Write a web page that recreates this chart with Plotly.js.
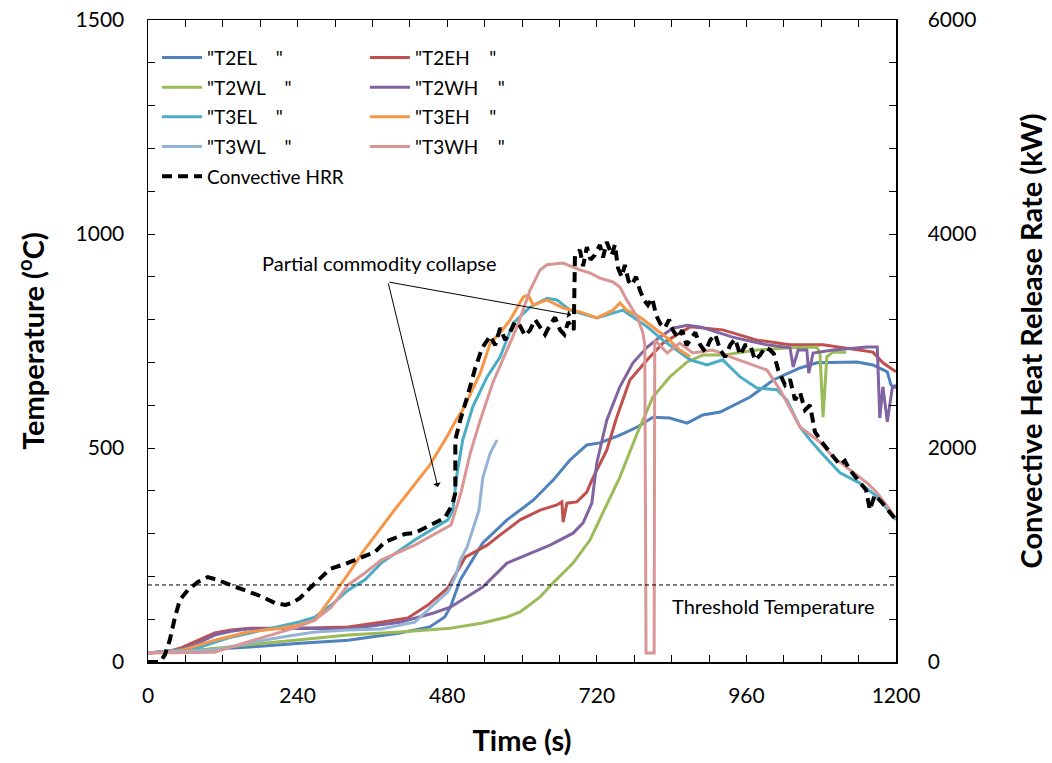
<!DOCTYPE html>
<html>
<head>
<meta charset="utf-8">
<script src="https://cdn.plot.ly/plotly-3.0.1.min.js"></script>
<style>html,body{margin:0;padding:0;background:#fff;}#chart{width:1052px;height:763px;}</style>
</head>
<body>
<div id="chart"></div>
<script>
// ---- Data (time in s, temperature in degC, HRR in kW) ----
const t_T2EL = [0,83,164,244,321,404,452,476,485,501,537,576,618,650,677,704,725,757,785,810,837,865,890,918,934,966,1003,1046,1073,1110,1137,1163,1186,1192,1200];
const T2EL   = [21,28,35,44,51,68,82,105,128,192,278,332,378,425,472,507,512,530,549,572,570,558,577,584,596,619,659,687,699,701,701,694,678,647,640];

const t_T2EH = [0,35,53,80,107,133,164,244,321,374,417,449,481,509,544,565,597,629,656,664,666,672,688,704,712,736,752,773,801,826,853,870,922,977,1030,1083,1163,1179,1200];
const T2EH   = [21,26,33,51,68,75,79,79,82,93,103,133,173,245,273,297,332,355,367,374,327,371,374,397,425,495,572,659,706,745,769,783,776,752,741,741,724,699,678];

const t_T2WL = [0,83,160,241,321,404,485,537,576,597,629,650,682,709,730,757,785,810,837,865,890,922,977,1030,1073,1078,1083,1089,1099,1120];
const T2WL   = [21,28,40,51,63,70,79,91,105,117,152,185,231,285,348,432,535,619,666,701,717,717,729,734,736,722,572,713,724,724];

const t_T2WH = [0,51,80,107,133,160,244,321,404,457,485,512,537,576,618,645,682,698,712,720,736,757,778,801,821,842,865,886,938,993,1030,1035,1043,1057,1060,1067,1099,1154,1170,1174,1179,1186,1194,1200];
const T2WH   = [21,28,44,63,72,77,79,77,93,114,128,152,175,231,257,273,301,325,371,465,565,643,699,736,759,780,787,783,759,741,734,689,729,729,675,722,729,736,736,570,643,561,640,647];

const t_T3EL = [0,80,133,188,241,268,294,321,348,374,428,481,489,496,505,521,544,565,586,613,640,656,677,693,720,746,762,778,801,826,849,870,897,922,950,977,1009,1025,1046,1062,1083,1110,1142,1170,1200];
const T3EL   = [21,33,58,75,93,105,133,168,192,231,285,332,355,442,519,596,666,713,792,829,850,846,822,815,804,815,822,806,783,752,729,706,694,706,666,640,636,612,549,519,484,442,418,386,332];

const t_T3EH = [0,51,107,160,213,241,268,294,321,345,399,452,481,494,505,533,549,565,581,602,610,618,640,666,693,720,746,757,768,789,810,833,853,870];
const T3EH   = [21,26,51,70,79,86,98,150,205,258,362,460,530,565,589,675,745,769,799,853,857,834,846,827,818,804,822,839,822,806,783,757,729,713];

const t_T3WL = [0,107,160,213,268,321,374,428,454,481,493,501,512,521,531,537,549,560];
const T3WL   = [21,28,44,58,70,75,77,93,128,164,199,238,269,308,355,430,488,519];

const t_T3WH = [0,107,160,213,241,268,294,321,348,374,428,486,502,517,533,553,576,592,613,629,640,666,693,709,725,746,757,768,785,794,797,799,812,813,833,853,874,906,934,961,993,1014,1046,1078,1099,1126,1154,1170,1195,1200];
const T3WH   = [21,23,47,70,82,98,128,180,208,238,273,320,395,488,565,652,729,783,869,916,928,932,916,909,897,888,876,846,806,769,741,21,21,752,722,745,722,729,713,699,682,636,549,514,479,449,418,395,348,336];

const t_HRR = [0,19,27,35,43,51,64,80,96,112,132,156,180,204,220,231,244,260,276,292,316,340,364,380,396,412,428,444,460,476,488,493,493,501,513,525,536,549,557,565,573,581,589,597,605,613,621,629,637,645,653,661,668,674,683,685,693,698,704,710,717,725,730,736,744,749,754,760,765,771,776,783,789,796,802,809,815,822,829,836,842,850,857,864,870,878,886,894,902,910,918,926,934,942,950,958,966,974,982,990,998,1004,1011,1022,1030,1038,1046,1054,1062,1070,1081,1094,1102,1110,1118,1126,1139,1152,1158,1166,1178,1190,1200];
const HRR   = [0,0,65,206,411,579,673,748,794,766,720,673,617,551,533,551,598,692,785,869,916,972,1028,1121,1159,1196,1206,1252,1308,1346,1467,1579,2075,2262,2495,2748,2935,3047,2960,3121,3010,3084,3180,3140,3050,3103,3200,3131,3060,3150,3220,3103,3060,3178,3103,3804,3850,3700,3878,3760,3804,3897,3780,3925,3804,3900,3682,3600,3710,3560,3523,3600,3477,3380,3336,3400,3243,3160,3121,3200,3103,3028,3100,2960,3009,3080,2963,2900,3009,3060,2916,2850,2963,3020,2869,2960,2963,2820,2869,2940,2916,2880,2729,2589,2640,2449,2520,2355,2400,2150,2056,1963,1900,1841,1880,1794,1701,1607,1421,1561,1486,1402,1327];

const THRESHOLD = 180;
const xTicks = [0,240,480,720,960,1200];

// ---- Styles ----
const FONT = 'Lato, "Open Sans", "Liberation Sans", sans-serif';
const SP = '\u00a0\u00a0\u00a0\u00a0';
const series = [
  {name:'"T2EL'+SP+'"', t:t_T2EL, v:T2EL, color:'#4F81BD', legend:'legend'},
  {name:'"T2EH'+SP+'"', t:t_T2EH, v:T2EH, color:'#C0504D', legend:'legend2'},
  {name:'"T2WL'+SP+'"', t:t_T2WL, v:T2WL, color:'#9BBB59', legend:'legend'},
  {name:'"T2WH'+SP+'"', t:t_T2WH, v:T2WH, color:'#8064A2', legend:'legend2'},
  {name:'"T3EL'+SP+'"', t:t_T3EL, v:T3EL, color:'#4BACC6', legend:'legend'},
  {name:'"T3EH'+SP+'"', t:t_T3EH, v:T3EH, color:'#F79646', legend:'legend2'},
  {name:'"T3WL'+SP+'"', t:t_T3WL, v:T3WL, color:'#95B3D7', legend:'legend'},
  {name:'"T3WH'+SP+'"', t:t_T3WH, v:T3WH, color:'#D99694', legend:'legend2'}
];

const traces = series.map((s,i) => ({
  type:'scatter', mode:'lines', x:s.t, y:s.v, name:s.name,
  line:{color:s.color, width:3}, legend:s.legend, legendgroup:'g'+i,
  hoverinfo:'skip'
}));
traces.push({
  type:'scatter', mode:'lines', x:t_HRR, y:HRR, name:'Convective HRR', yaxis:'y2',
  line:{color:'#000000', width:4, dash:'10px,6px'}, legend:'legend', legendgroup:'hrr'
});

const axisCommon = {
  showgrid:false, zeroline:false, showline:true, linecolor:'#000', linewidth:1.5,
  ticks:'inside', ticklen:7, tickwidth:1, tickcolor:'#000',
  tickfont:{family:FONT, size:21, color:'#000'}
};
const TITLE_FONT = {family:FONT, size:29, color:'#000'};

const layout = {
  width:1052, height:763,
  margin:{l:148, r:156, t:20, b:101},
  paper_bgcolor:'#fff', plot_bgcolor:'#fff',
  font:{family:FONT, color:'#000'},
  showlegend:true,
  xaxis: Object.assign({}, axisCommon, {
    range:[0,1200], tickvals:xTicks, mirror:'allticks',
    minor:{dtick:60, ticks:'inside', ticklen:7, tickcolor:'#000'},
    ticklabelstandoff:14,
    title:{text:'<b>Time (s)</b>', font:TITLE_FONT, standoff:25}
  }),
  yaxis: Object.assign({}, axisCommon, {
    range:[0,1500], dtick:500,
    minor:{dtick:100, ticks:'inside', ticklen:7, tickcolor:'#000'},
    ticklabelstandoff:18,
    title:{text:'<b>Temperature (<sup>o</sup>C)</b>', font:TITLE_FONT, standoff:22}
  }),
  yaxis2: Object.assign({}, axisCommon, {
    range:[0,6000], dtick:2000, overlaying:'y', side:'right',
    minor:{dtick:400, ticks:'inside', ticklen:7, tickcolor:'#000'},
    ticklabelstandoff:26,
    title:{text:'<b>Convective Heat Release Rate (kW)</b>', font:TITLE_FONT, standoff:46}
  }),
  legend:{x:0.012, y:0.971, xanchor:'left', yanchor:'top', bgcolor:'rgba(0,0,0,0)',
    font:{family:FONT, size:19, color:'#000'}, tracegroupgap:2, itemwidth:40},
  legend2:{x:0.29, y:0.971, xanchor:'left', yanchor:'top', bgcolor:'rgba(0,0,0,0)',
    font:{family:FONT, size:19, color:'#000'}, tracegroupgap:2, itemwidth:40},
  shapes:[
    {type:'line', xref:'x', yref:'y', x0:0, x1:1200, y0:THRESHOLD, y1:THRESHOLD,
     line:{color:'#000', width:1, dash:'4px,3px'}}
  ],
  annotations:[
    {xref:'x', yref:'y', x:372, y:932, text:'Partial commodity collapse', showarrow:false,
     font:{family:FONT, size:20, color:'#000'}},
    {xref:'x', yref:'y', x:465, y:409, axref:'x', ayref:'y', ax:385, ay:888, text:'',
     showarrow:true, arrowhead:1, arrowsize:1.3, arrowwidth:1, arrowcolor:'#000'},
    {xref:'x', yref:'y', x:679, y:811, axref:'x', ayref:'y', ax:385, ay:888, text:'',
     showarrow:true, arrowhead:1, arrowsize:1.3, arrowwidth:1, arrowcolor:'#000'},
    {xref:'x', yref:'y', x:1003, y:131, text:'Threshold Temperature', showarrow:false,
     font:{family:FONT, size:20, color:'#000'}}
  ]
};

Plotly.newPlot('chart', traces, layout, {staticPlot:true, displayModeBar:false});
</script>
</body>
</html>
